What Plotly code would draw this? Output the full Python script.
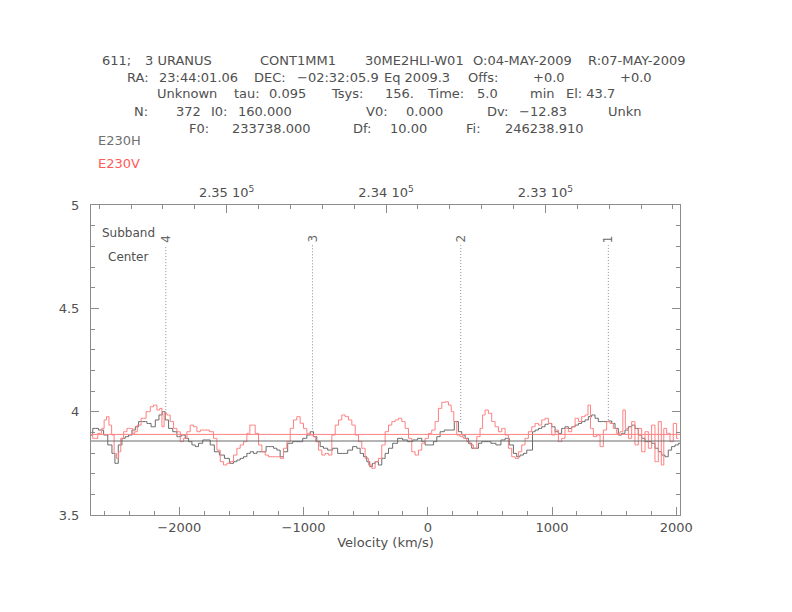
import plotly.graph_objects as go

# --- header values (CLASS style spectrum) ---
F0 = 233738.000   # MHz at V0
DF = 10.00        # MHz per channel
V0 = 0.000
DV = -12.83       # km/s per channel
VEL_MIN, VEL_MAX = -2711, 2030

# --- spectra (velocity km/s, Tmb) ---
h_vel = [-2717, -2677, -2623, -2596, -2556, -2529, -2508, -2475, -2449, -2422,
         -2395, -2368, -2341, -2315, -2274, -2248, -2207, -2180, -2148, -2127,
         -2100, -2073, -2033, -2006, -1966, -1939, -1912, -1885, -1859, -1832,
         -1792, -1765, -1738, -1698, -1657, -1617, -1577, -1550, -1523, -1497,
         -1470, -1443, -1416, -1389, -1363, -1322, -1282, -1255, -1228, -1202,
         -1175, -1148, -1108, -1068, -1027, -987, -960, -933, -907, -880,
         -853, -826, -786, -746, -706, -665, -625, -585, -558, -531,
         -504, -478, -456, -437, -411, -384, -357, -330, -303, -263,
         -223, -183, -142, -102, -62, -35, -8, 32, 59, 86,
         112, 153, 193, 233, 260, 287, 314, 340, 367, 394,
         421, 448, 488, 528, 568, 609, 635, 676, 702, 729,
         756, 783, 810, 836, 850, 877, 904, 930, 957, 984,
         1011, 1038, 1064, 1091, 1118, 1145, 1172, 1199, 1225, 1252,
         1279, 1306, 1333, 1359, 1386, 1413, 1440, 1467, 1494, 1520,
         1547, 1574, 1601, 1628, 1654, 1681, 1708, 1735, 1762, 1788,
         1815, 1842, 1869, 1896, 1922, 1949, 1976, 2003, 2030]
h_val = [3.887, 3.919, 3.911, 3.887, 3.839, 3.798, 3.750, 3.839, 3.871, 3.879,
         3.887, 3.911, 3.927, 3.952, 3.952, 3.943, 3.927, 3.960, 3.984, 4.000,
         3.960, 3.919, 3.903, 3.879, 3.887, 3.871, 3.855, 3.839, 3.831, 3.847,
         3.863, 3.863, 3.839, 3.806, 3.790, 3.774, 3.750, 3.758, 3.766, 3.774,
         3.782, 3.798, 3.806, 3.798, 3.806, 3.806, 3.831, 3.831, 3.823, 3.814,
         3.782, 3.806, 3.847, 3.855, 3.855, 3.871, 3.887, 3.903, 3.879, 3.855,
         3.831, 3.823, 3.814, 3.823, 3.798, 3.798, 3.814, 3.831, 3.823, 3.798,
         3.782, 3.758, 3.734, 3.750, 3.758, 3.742, 3.774, 3.798, 3.823, 3.847,
         3.871, 3.863, 3.855, 3.863, 3.871, 3.855, 3.839, 3.839, 3.855, 3.879,
         3.903, 3.911, 3.911, 3.952, 3.903, 3.887, 3.871, 3.847, 3.823, 3.823,
         3.847, 3.855, 3.855, 3.847, 3.839, 3.863, 3.871, 3.839, 3.798, 3.782,
         3.790, 3.798, 3.814, 3.814, 3.903, 3.911, 3.919, 3.927, 3.939, 3.943,
         3.927, 3.903, 3.895, 3.919, 3.927, 3.919, 3.927, 3.935, 3.943, 3.952,
         3.960, 3.976, 3.984, 3.968, 3.952, 3.952, 3.952, 3.955, 3.943, 3.919,
         3.887, 3.895, 3.911, 3.927, 3.935, 3.919, 3.887, 3.871, 3.855, 3.855,
         3.847, 3.823, 3.806, 3.790, 3.782, 3.814, 3.831, 3.839, 3.847]

v_vel = [-2717, -2677, -2636, -2615, -2596, -2577, -2556, -2534, -2516, -2497,
         -2481, -2462, -2435, -2408, -2382, -2368, -2349, -2328, -2288, -2247,
         -2221, -2194, -2167, -2148, -2132, -2113, -2087, -2060, -2033, -2006,
         -1979, -1952, -1926, -1899, -1872, -1845, -1818, -1778, -1738, -1711,
         -1684, -1657, -1631, -1604, -1577, -1550, -1523, -1497, -1470, -1443,
         -1422, -1403, -1376, -1349, -1322, -1296, -1269, -1228, -1202, -1175,
         -1148, -1121, -1094, -1068, -1041, -1014, -987, -960, -933, -912,
         -893, -866, -840, -813, -786, -759, -732, -706, -679, -652,
         -625, -598, -571, -545, -518, -491, -464, -437, -411, -384,
         -357, -330, -303, -276, -250, -223, -196, -169, -142, -116,
         -89, -62, -35, -8, 18, 45, 72, 99, 126, 153,
         179, 198, 220, 246, 273, 300, 327, 354, 381, 407,
         434, 448, 474, 501, 528, 555, 582, 609, 635, 662,
         689, 716, 743, 769, 796, 823, 850, 877, 904, 930,
         957, 984, 1011, 1038, 1064, 1091, 1118, 1145, 1172, 1199,
         1225, 1252, 1279, 1300, 1319, 1346, 1373, 1400, 1426, 1453,
         1480, 1507, 1534, 1561, 1579, 1601, 1628, 1654, 1681, 1708,
         1735, 1762, 1788, 1815, 1842, 1869, 1890, 1909, 1936, 1963,
         1989, 2016]
v_val = [3.887, 3.871, 3.895, 3.919, 3.960, 3.976, 3.935, 3.887, 3.798, 3.774,
         3.806, 3.871, 3.903, 3.919, 3.919, 3.895, 3.903, 3.935, 3.968, 4.000,
         4.024, 4.032, 4.008, 4.016, 3.927, 3.992, 3.984, 3.952, 3.919, 3.903,
         3.855, 3.871, 3.903, 3.935, 3.927, 3.903, 3.911, 3.911, 3.903, 3.871,
         3.814, 3.758, 3.742, 3.750, 3.758, 3.790, 3.823, 3.839, 3.855, 3.895,
         3.935, 3.935, 3.895, 3.839, 3.806, 3.790, 3.782, 3.782, 3.782, 3.774,
         3.823, 3.855, 3.919, 3.960, 3.976, 3.944, 3.919, 3.895, 3.887, 3.879,
         3.855, 3.814, 3.790, 3.798, 3.790, 3.887, 3.935, 3.960, 3.984, 3.976,
         3.960, 3.935, 3.887, 3.855, 3.823, 3.774, 3.742, 3.726, 3.758, 3.774,
         3.839, 3.903, 3.935, 3.952, 3.960, 3.968, 3.952, 3.919, 3.871, 3.806,
         3.790, 3.814, 3.847, 3.871, 3.895, 3.911, 3.952, 4.016, 4.045, 4.048,
         4.032, 4.000, 3.952, 3.887, 3.879, 3.871, 3.855, 3.839, 3.823, 3.879,
         3.919, 3.984, 4.008, 3.992, 3.952, 3.927, 3.903, 3.919, 3.887, 3.823,
         3.782, 3.774, 3.806, 3.839, 3.871, 3.903, 3.927, 3.943, 3.935, 3.960,
         3.968, 3.943, 3.887, 3.911, 3.855, 3.871, 3.919, 3.903, 3.927, 3.968,
         3.952, 3.976, 3.984, 4.032, 3.919, 3.879, 3.887, 3.831, 3.911, 3.952,
         3.943, 3.919, 3.895, 3.903, 4.008, 3.919, 3.871, 3.952, 3.839, 3.919,
         3.806, 3.903, 3.823, 3.935, 3.758, 3.952, 3.742, 3.919, 3.895, 3.855,
         3.943, 3.871]

# baselines
h_base = 3.858
v_base = 3.890

# subband centres
sub_vel = [-2109, -928, 265, 1453]
sub_low = [3.993, 3.900, 3.945, 3.960]
sub_top = 4.806
sub_lab = ["4", "3", "2", "1"]

# top axis ticks
freq_ticks = [235000, 234000, 233000]
freq_text = ["2.35 10<sup>5</sup>", "2.34 10<sup>5</sup>", "2.33 10<sup>5</sup>"]

GREY = "#6a6a6a"
RED = "#ff8080"
AXIS = "#8c8c8c"
FONT = "DejaVu Sans"


def freq_at(v):
    return F0 + (v - V0) * DF / DV


# page has an 8px body margin, so the figure is a bit smaller than the window
OFF = 8
W, H = 792 - 2 * OFF, 612 - 2 * OFF
# plot box in window pixels, used to place the header text
L, R, T, B = 91, 680, 205, 515


def px(x):
    return (x - L) / (R - L)


def py(y):
    return (B - y) / (B - T)


header = [
    (60, [(100, "611;"), (143, "3 URANUS"), (258, "CONT1MM1"), (363, "30ME2HLI-W01"),
          (471, "O:04-MAY-2009"), (586, "R:07-MAY-2009")]),
    (77, [(125, "RA:"), (157, "23:44:01.06"), (252, "DEC:"), (295, "\u221202:32:05.9"),
          (382, "Eq 2009.3"), (466, "Offs:"), (531, "+0.0"), (618, "+0.0")]),
    (94, [(155, "Unknown"), (232, "tau:"), (267, "0.095"), (329, "Tsys:"), (383, "156."),
          (425, "Time:"), (475, "5.0"), (528, "min"), (564, "El: 43.7")]),
    (111, [(132, "N:"), (174, "372"), (209, "I0:"), (236, "160.000"), (364, "V0:"),
           (404, "0.000"), (485, "Dv:"), (517, "\u221212.83"), (606, "Unkn")]),
    (128, [(187, "F0:"), (230, "233738.000"), (351, "Df:"), (388, "10.00"),
           (464, "Fi:"), (503, "246238.910")]),
]

fig = go.Figure()

fig.add_trace(go.Scatter(x=h_vel, y=h_val, mode="lines", line_shape="hvh",
                         line=dict(color=GREY, width=1), hoverinfo="skip"))
fig.add_trace(go.Scatter(x=v_vel, y=v_val, mode="lines", line_shape="hvh",
                         line=dict(color=RED, width=1), hoverinfo="skip"))

# baselines
for yb, col in [(h_base, GREY), (v_base, RED)]:
    fig.add_trace(go.Scatter(x=[VEL_MIN, VEL_MAX], y=[yb, yb], mode="lines",
                             line=dict(color=col, width=1), hoverinfo="skip"))

# subband centre markers
for v, lo, lab in zip(sub_vel, sub_low, sub_lab):
    fig.add_trace(go.Scatter(x=[v, v], y=[lo, sub_top], mode="lines",
                             line=dict(color="#909090", width=1, dash="1px,2px"),
                             hoverinfo="skip"))
    fig.add_annotation(x=v, y=sub_top + 0.03, text=lab, textangle=-90,
                       showarrow=False, font=dict(family=FONT, size=12, color=GREY))

# invisible trace to carry the frequency axis
fig.add_trace(go.Scatter(x=[freq_at(VEL_MIN), freq_at(VEL_MAX)], y=[None, None],
                         xaxis="x2", mode="lines", hoverinfo="skip"))

for yl, fields in header:
    for xl, txt in fields:
        fig.add_annotation(xref="paper", yref="paper", x=px(xl), y=py(yl), text=txt,
                           xanchor="left", yanchor="middle", showarrow=False,
                           font=dict(family=FONT, size=13, color="#505050"))

fig.add_annotation(xref="paper", yref="paper", x=px(96), y=py(141), text="E230H",
                   xanchor="left", yanchor="middle", showarrow=False,
                   font=dict(family=FONT, size=13, color="#707070"))
fig.add_annotation(xref="paper", yref="paper", x=px(96), y=py(163), text="E230V",
                   xanchor="left", yanchor="middle", showarrow=False,
                   font=dict(family=FONT, size=13, color="#ff5a5a"))
fig.add_annotation(xref="paper", yref="paper", x=px(100), y=py(233), text="Subband",
                   xanchor="left", yanchor="middle", showarrow=False,
                   font=dict(family=FONT, size=12, color="#505050"))
fig.add_annotation(xref="paper", yref="paper", x=px(106), y=py(257), text="Center",
                   xanchor="left", yanchor="middle", showarrow=False,
                   font=dict(family=FONT, size=12, color="#505050"))

tickfont = dict(family=FONT, size=13, color="#505050")

fig.update_layout(
    width=W, height=H,
    margin=dict(l=L - OFF, r=W - (R - OFF), t=T - OFF, b=H - (B - OFF)),
    paper_bgcolor="white", plot_bgcolor="white",
    showlegend=False,
    xaxis=dict(range=[VEL_MIN, VEL_MAX], showgrid=False, zeroline=False,
               showline=True, linecolor=AXIS, linewidth=1, mirror=True,
               ticks="inside", ticklen=8, tickcolor=AXIS,
               tickmode="linear", tick0=0, dtick=1000, tickfont=tickfont,
               minor=dict(ticks="inside", ticklen=4, tickcolor=AXIS, dtick=200, tick0=0),
               title=dict(text="Velocity (km/s)", font=tickfont, standoff=2)),
    xaxis2=dict(overlaying="x", side="top", range=[freq_at(VEL_MIN), freq_at(VEL_MAX)],
                showgrid=False, zeroline=False, showline=False,
                ticks="inside", ticklen=8, tickcolor=AXIS,
                tickmode="array", tickvals=freq_ticks, ticktext=freq_text,
                tickfont=tickfont, ticklabelstandoff=4,
                minor=dict(ticks="inside", ticklen=4, tickcolor=AXIS, dtick=200, tick0=0)),
    yaxis=dict(range=[3.5, 5], showgrid=False, zeroline=False,
               showline=True, linecolor=AXIS, linewidth=1, mirror="ticks",
               ticks="inside", ticklen=8, tickcolor=AXIS,
               tickmode="array", tickvals=[3.5, 4, 4.5, 5], ticktext=["3.5", "4", "4.5", "5"],
               tickfont=tickfont, ticklabelstandoff=8,
               minor=dict(ticks="inside", ticklen=4, tickcolor=AXIS, dtick=0.1, tick0=3.5)),
)

fig.write_html("out.html", config={"displayModeBar": False})
